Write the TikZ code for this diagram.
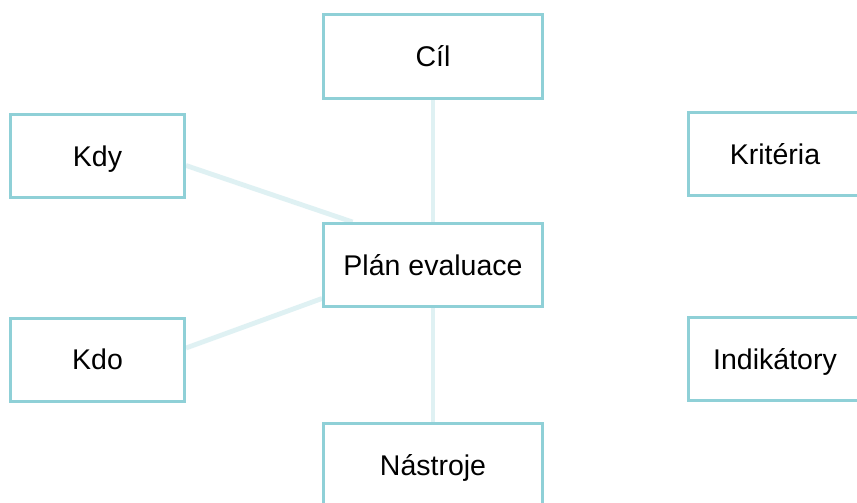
\documentclass[tikz,border=0pt]{standalone}
\usepackage{fontspec}
\setmainfont{Liberation Sans}
\definecolor{boxline}{HTML}{8FD0D7}
\definecolor{conn}{HTML}{DFF1F3}
\pgfdeclarelayer{bg}
\pgfsetlayers{bg,main}
\begin{document}
\begin{tikzpicture}[x=1pt,y=-1pt,
  box/.style={draw=boxline,line width=3pt,fill=white,minimum width=219pt,minimum height=83pt,inner sep=0pt,text height=20pt,text depth=0pt,font=\fontsize{28.5}{32}\selectfont},
  sbox/.style={box,minimum width=174pt},
  conn/.style={draw=conn,line width=4.8pt}]
\useasboundingbox (0,0) rectangle (857,503);
\clip (0,0) rectangle (857,503);
\node[box] (cil) at (433,56.5) {Cíl};
\node[box] (plan) at (433,265) {Plán evaluace};
\node[box] (nas) at (433,465) {Nástroje};
\node[sbox] (kdy) at (97.5,156) {Kdy};
\node[sbox] (kdo) at (97.5,359.5) {Kdo};
\node[sbox] (krit) at (775,154) {Kritéria};
\node[sbox] (ind) at (775,359) {Indikátory};
\coordinate (pk) at ([xshift=30.5pt]plan.north west);
\coordinate (kdys) at ([yshift=-9.5pt]kdy.east);
\coordinate (kdos) at ([yshift=11.5pt]kdo.east);
\coordinate (pw) at ([yshift=-33.5pt]plan.west);
\begin{pgfonlayer}{bg}
\fill[white] (0,0) rectangle (857,503);
\path[conn] (cil.south) -- (plan.north);
\path[conn] (plan.south) -- (nas.north);
\path[conn] (kdys) -- (pk);
\path[conn] (kdos) -- (pw);
\end{pgfonlayer}
\end{tikzpicture}
\end{document}
